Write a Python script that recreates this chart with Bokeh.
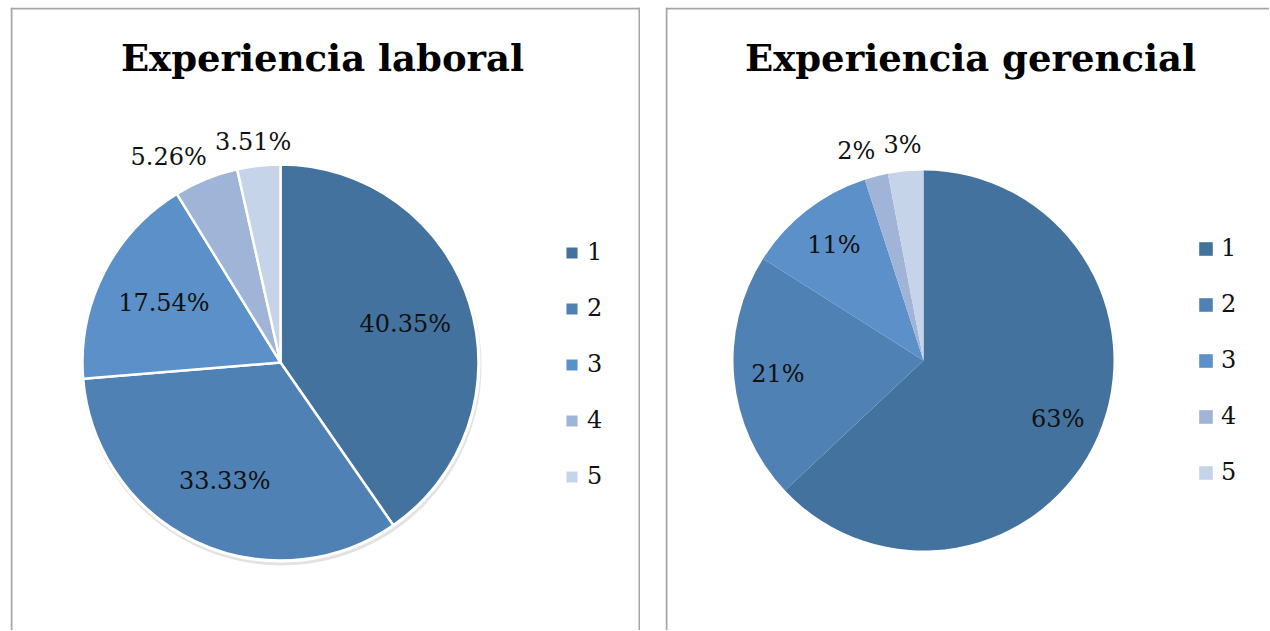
import math
from bokeh.plotting import figure
from bokeh.models import ColumnDataSource, Range1d, Legend, LegendItem, Label, Span
from bokeh.layouts import row
from bokeh.core.properties import value
from bokeh.embed import file_html
from bokeh.resources import INLINE

# ---- data ----
categories = ["1", "2", "3", "4", "5"]
laboral_values = [40.35, 33.33, 17.54, 5.26, 3.51]
laboral_labels = ["40.35%", "33.33%", "17.54%", "5.26%", "3.51%"]
gerencial_values = [63, 21, 11, 2, 3]
gerencial_labels = ["63%", "21%", "11%", "2%", "3%"]
colors = ["#44729e", "#4f81b5", "#5b90c8", "#a0b4d8", "#c6d4e9"]

SERIF = "DejaVu Serif"
H = 623
LABEL_PX = 24


def text_w(s, px):
    w = 0.0
    for ch in s:
        if ch == ".":
            w += 0.32
        elif ch == "%":
            w += 0.95
        else:
            w += 0.64
    return w * px


def pie_panel(title, values, labels, width, cx, cy, r, inner_f, gap,
              line_color, shadow, title_x, legend_loc, margin, right_edge):
    p = figure(width=width, height=H, output_backend="svg", toolbar_location=None,
               x_range=Range1d(0, width), y_range=Range1d(0, H),
               min_border=0, tools="")
    p.margin = margin
    p.axis.visible = False
    p.grid.visible = False
    p.outline_line_color = None
    p.background_fill_color = "white"
    p.border_fill_color = "white"

    # panel frame (left, top and optionally right edge; bottom runs off the page)
    border = dict(line_color="#a6a6a6", line_width=2)
    p.add_layout(Span(location=1, dimension="height", **border))
    p.add_layout(Span(location=H - 1, dimension="width", **border))
    if right_edge:
        p.add_layout(Span(location=width - 1, dimension="height", **border))

    total = float(sum(values))
    starts, ends, lx, ly = [], [], [], []
    outside = []
    cum = 0.0
    for i, v in enumerate(values):
        f0 = cum / total
        f1 = (cum + v) / total
        cum += v
        # clockwise from 12 o'clock
        starts.append(math.pi / 2 - f1 * 2 * math.pi)
        ends.append(math.pi / 2 - f0 * 2 * math.pi)
        mid = math.pi / 2 - (f0 + f1) / 2 * 2 * math.pi
        ux, uy = math.cos(mid), math.sin(mid)
        if v / total > 0.08:
            lx.append(cx + r * inner_f * ux)
            ly.append(cy + r * inner_f * uy)
        else:
            w = text_w(labels[i], LABEL_PX)
            h = LABEL_PX
            px_, py_ = cx + (r + gap) * ux, cy + (r + gap) * uy
            lx.append(px_ + w / 2 * ux)
            ly.append(py_ + h / 2 * uy)
            outside.append(i)
    # simple overlap resolution for outside labels (push earlier one left)
    for a, b in zip(outside[:-1], outside[1:]):
        wa = text_w(labels[a], LABEL_PX)
        wb = text_w(labels[b], LABEL_PX)
        right_a = lx[a] + wa / 2
        left_b = lx[b] - wb / 2
        if right_a + 8 > left_b and abs(ly[a] - ly[b]) < LABEL_PX:
            lx[a] -= right_a + 8 - left_b

    src = ColumnDataSource(dict(start=starts, end=ends, color=colors,
                                cat=categories, lab=labels, lx=lx, ly=ly))
    if shadow:
        p.circle(x=[cx + 1], y=[cy - 3], radius=r + 2, fill_color="#d0d0d0",
                 fill_alpha=0.6, line_color=None)
        p.circle(x=[cx], y=[cy], radius=r + 2, fill_color="white", line_color=None)
    wr = p.wedge(x=cx, y=cy, radius=r, start_angle="start", end_angle="end",
                 fill_color="color", line_color=line_color,
                 line_width=2.5 if line_color else 0, source=src)
    p.text(x="lx", y="ly", text="lab", source=src, text_font=value(SERIF),
           text_font_size=f"{LABEL_PX}px", text_align="center",
           text_baseline="middle", text_color="#111111")

    p.add_layout(Label(x=title_x, y=H - 50, text=title, text_font=SERIF,
                       text_font_size="37px", text_font_style="bold",
                       text_align="center", text_baseline="middle",
                       text_color="#000000"))

    items = [LegendItem(label=c, renderers=[wr], index=i)
             for i, c in enumerate(categories)]
    leg = Legend(items=items, location=legend_loc, orientation="vertical",
                 glyph_width=17, glyph_height=17, label_height=20,
                 spacing=28, padding=0, margin=0, label_standoff=7,
                 label_text_font=SERIF, label_text_font_size="24px",
                 label_text_color="#111111", border_line_color=None,
                 background_fill_alpha=0)
    p.add_layout(leg)
    return p


p1 = pie_panel("Experiencia laboral", laboral_values, laboral_labels, 630,
               cx=270, cy=H - 355, r=198, inner_f=0.66, gap=12,
               line_color="white", shadow=True, title_x=312,
               legend_loc=(553, 140), margin=(7, 0, 0, 10), right_edge=True)
p2 = pie_panel("Experiencia gerencial", gerencial_values, gerencial_labels, 604,
               cx=258, cy=H - 353, r=190, inner_f=0.77, gap=14,
               line_color=None, shadow=False, title_x=305,
               legend_loc=(532, 144), margin=(7, 0, 0, 0), right_edge=False)

layout = row(p1, p2, spacing=25)
open("out.html", "w").write(file_html(layout, INLINE))
